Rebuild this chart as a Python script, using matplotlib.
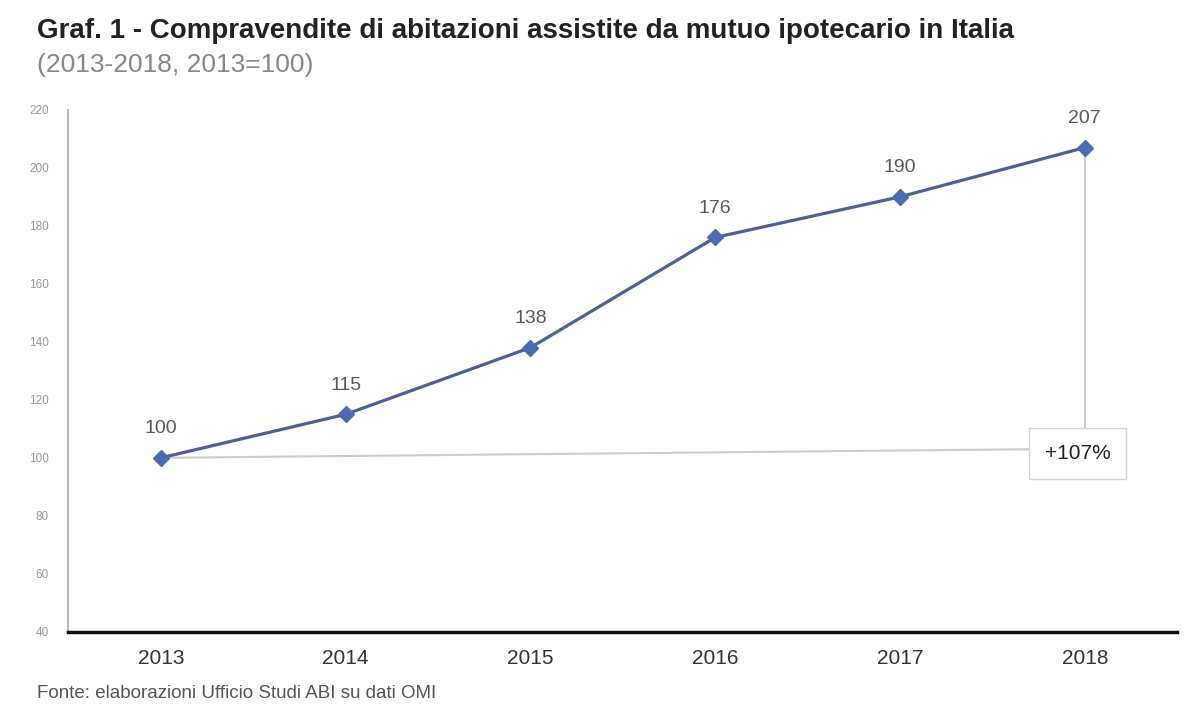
import matplotlib
matplotlib.use("Agg")
import matplotlib.pyplot as plt

plt.rcParams['font.family'] = ['Liberation Sans', 'DejaVu Sans']

years = ["2013", "2014", "2015", "2016", "2017", "2018"]
values = [100, 115, 138, 176, 190, 207]
yticks = [40, 60, 80, 100, 120, 140, 160, 180, 200, 220]
title = "Graf. 1 - Compravendite di abitazioni assistite da mutuo ipotecario in Italia"
subtitle = "(2013-2018, 2013=100)"
source = "Fonte: elaborazioni Ufficio Studi ABI su dati OMI"
growth_label = "+107%"

fig = plt.figure(figsize=(12, 7.18), dpi=100)
ax = fig.add_axes([0.057, 0.12, 0.924, 0.727])

x = list(range(len(years)))
ax.set_xlim(-0.5, len(years) - 0.5)
ax.set_ylim(40, 220)

# reference lines for growth annotation
ax.plot([x[0], x[-1] - 0.25], [values[0], values[0] + 3], color="#cccccc", lw=1.5, zorder=1)
ax.plot([x[-1], x[-1]], [values[-1], values[0] + 8], color="#cccccc", lw=1.5, zorder=1)

ax.plot(x, values, color="#4d6196", lw=2.3, marker="D", markersize=8,
        markerfacecolor="#4d6bb2", markeredgecolor="#4d6bb2", zorder=3)

for xi, v in zip(x, values):
    ax.annotate(str(v), (xi, v), xytext=(0, 15), textcoords="offset points",
                ha="center", va="bottom", fontsize=14, color="#5a5a5a")

ax.text(x[-1] - 0.04, values[0] + 1.5, growth_label, ha="center", va="center",
        fontsize=15, color="#222222", zorder=4,
        bbox=dict(boxstyle="square,pad=0.75", facecolor="white", edgecolor="#d4d4d4", lw=1))

ax.set_xticks(x)
ax.set_xticklabels(years, fontsize=15, color="#333333")
ax.set_yticks(yticks)
ax.set_yticklabels([str(t) for t in yticks], fontsize=8.5, color="#999999")
ax.tick_params(axis="x", length=0, pad=12)
ax.tick_params(axis="y", length=0, pad=14)

for s in ["top", "right"]:
    ax.spines[s].set_visible(False)
ax.spines["left"].set_color("#bbbbbb")
ax.spines["left"].set_linewidth(1.5)
ax.spines["bottom"].set_color("#111111")
ax.spines["bottom"].set_linewidth(2.5)

fig.text(0.031, 0.957, title, fontsize=20, fontweight="bold", color="#222222", va="center")
fig.text(0.031, 0.91, subtitle, fontsize=19, color="#888888", va="center")
fig.text(0.031, 0.034, source, fontsize=13.5, color="#555555", va="center")

fig.savefig("out.png", dpi=100, facecolor="white")
